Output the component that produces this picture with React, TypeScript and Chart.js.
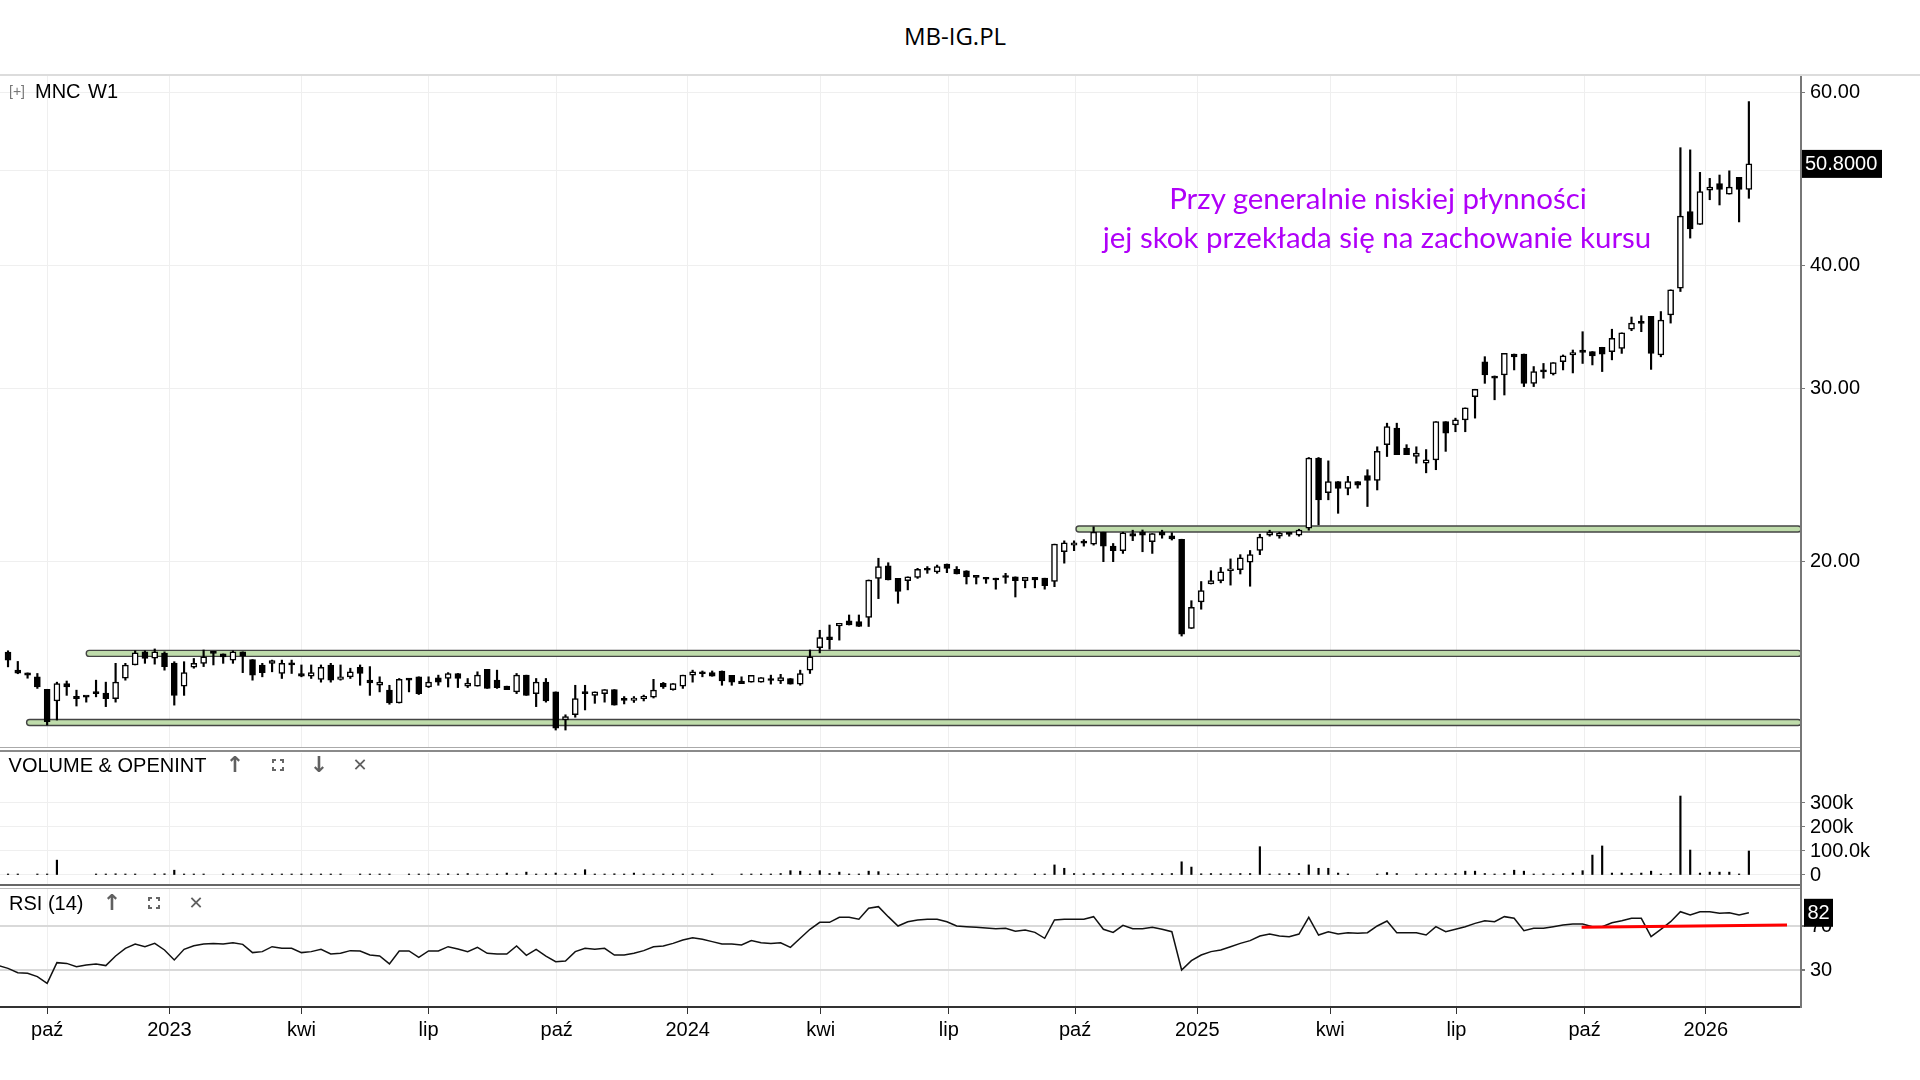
import React, { useEffect, useMemo, useRef } from "react";
import { Chart, registerables } from "chart.js";

Chart.register(...registerables);

const FONT = '"Liberation Sans", Arial, sans-serif';

// ---------- DATA (weekly candles, index 0 = early Sep 2022) ----------
const opens = [
  16.15, 15.48, 15.38, 15.24, 14.8, 14.4, 15.0, 14.56, 14.54, 14.66,
  14.67, 14.48, 15.19, 15.67, 16.16, 15.92, 16.11, 15.74, 14.91, 15.59,
  15.73, 16.16, 16.08, 15.85, 16.16, 15.87, 15.67, 15.73, 15.36, 15.75,
  15.36, 15.26, 15.15, 15.67, 15.15, 15.24, 15.58, 15.12, 14.94, 14.77,
  14.33, 15.18, 15.24, 14.88, 15.2, 15.18, 15.36, 14.91, 14.91, 15.51,
  15.12, 14.91, 14.71, 15.3, 14.65, 15.05, 14.71, 13.77, 13.94, 14.71,
  14.59, 14.65, 14.79, 14.45, 14.42, 14.48, 14.53, 15.01, 14.79, 14.91,
  15.3, 15.37, 15.39, 15.45, 15.29, 15.09, 15.05, 15.05, 15.13, 15.09,
  15.18, 14.98, 15.48, 16.32, 16.74, 17.17, 17.38, 17.35, 17.52, 19.2,
  19.77, 19.2, 19.1, 19.25, 19.59, 19.5, 19.86, 19.61, 19.55, 19.26,
  19.25, 19.21, 19.26, 19.27, 19.1, 19.25, 19.21, 19.06, 20.44, 20.76,
  20.88, 20.81, 21.4, 20.71, 20.49, 21.33, 21.4, 20.93, 21.4, 21.22,
  21.05, 17.07, 18.17, 18.95, 19.1, 19.55, 19.6, 19.95, 20.5, 21.25,
  21.2, 21.31, 21.25, 21.6, 25.47, 23.48, 24.1, 23.71, 24.1, 24.44,
  24.16, 26.28, 27.32, 26.07, 25.56, 25.16, 25.36, 27.74, 27.53, 27.86,
  29.42, 31.93, 30.88, 30.95, 32.51, 32.51, 30.35, 31.22, 31.02, 31.93,
  32.44, 32.82, 32.7, 33.03, 32.7, 32.95, 34.46, 34.98, 35.51, 32.44,
  35.63, 37.95, 45.41, 44.07, 47.77, 48.5, 47.32, 49.21, 47.85,
];
const highs = [
  16.2, 15.8, 15.38, 15.36, 14.8, 15.05, 15.09, 14.77, 14.56, 15.12,
  15.05, 15.73, 15.73, 16.2, 16.2, 16.27, 16.16, 15.79, 15.79, 15.91,
  16.23, 16.16, 16.08, 16.2, 16.16, 15.87, 15.73, 15.85, 15.85, 15.85,
  15.67, 15.67, 15.67, 15.73, 15.67, 15.55, 15.67, 15.61, 15.24, 14.94,
  15.18, 15.18, 15.24, 15.24, 15.3, 15.39, 15.36, 15.18, 15.42, 15.51,
  15.48, 14.91, 15.36, 15.3, 15.18, 15.18, 14.71, 13.94, 14.94, 14.94,
  14.71, 14.79, 14.79, 14.55, 14.55, 14.6, 15.15, 15.04, 15.0, 15.3,
  15.48, 15.45, 15.45, 15.45, 15.29, 15.24, 15.29, 15.21, 15.3, 15.33,
  15.18, 15.48, 16.23, 17.0, 17.21, 17.28, 17.62, 17.62, 19.13, 20.13,
  19.92, 19.2, 19.27, 19.66, 19.74, 19.81, 19.86, 19.74, 19.55, 19.26,
  19.25, 19.21, 19.43, 19.27, 19.25, 19.25, 19.21, 20.81, 20.97, 20.97,
  21.03, 21.67, 21.4, 20.84, 21.4, 21.5, 21.51, 21.33, 21.5, 21.37,
  21.05, 18.22, 19.06, 19.55, 19.7, 20.1, 20.3, 20.5, 21.3, 21.5,
  21.4, 21.4, 21.55, 25.5, 25.5, 25.3, 24.1, 24.4, 24.1, 24.78,
  26.15, 27.64, 27.64, 26.28, 26.15, 25.98, 27.74, 27.74, 27.97, 28.65,
  29.93, 32.31, 30.88, 32.56, 32.51, 32.51, 31.57, 31.8, 31.86, 32.44,
  32.82, 34.26, 32.7, 33.03, 34.46, 34.17, 35.46, 35.57, 35.51, 35.92,
  37.8, 52.77, 52.5, 49.8, 49.1, 49.49, 49.98, 49.21, 58.8,
];
const lows = [
  15.6, 15.35, 15.19, 14.83, 13.61, 13.77, 14.59, 14.23, 14.36, 14.54,
  14.21, 14.36, 15.12, 15.67, 15.73, 15.7, 15.48, 14.26, 14.59, 15.55,
  15.61, 15.67, 15.73, 15.73, 15.39, 15.12, 15.24, 15.42, 15.18, 15.36,
  15.24, 15.18, 15.05, 15.05, 15.12, 15.18, 14.94, 14.59, 14.71, 14.29,
  14.33, 14.71, 14.62, 14.86, 14.94, 14.88, 14.86, 14.86, 14.91, 14.83,
  14.83, 14.79, 14.65, 14.59, 14.21, 14.36, 13.45, 13.45, 13.86, 14.1,
  14.32, 14.36, 14.26, 14.3, 14.35, 14.4, 14.5, 14.83, 14.77, 14.83,
  15.05, 15.24, 15.26, 14.94, 14.94, 15.0, 15.05, 15.05, 14.98, 15.0,
  14.98, 14.94, 15.36, 16.12, 16.26, 16.61, 17.21, 17.15, 17.15, 18.31,
  19.13, 18.11, 18.69, 19.2, 19.43, 19.43, 19.46, 19.4, 18.95, 18.95,
  18.98, 18.72, 18.98, 18.38, 18.78, 18.78, 18.72, 18.83, 19.9, 20.49,
  20.71, 20.76, 19.97, 19.97, 20.36, 20.98, 20.44, 20.36, 21.1, 21.01,
  16.77, 17.07, 17.86, 18.95, 19.0, 18.9, 19.4, 18.85, 20.3, 21.2,
  21.1, 21.2, 21.2, 21.5, 21.77, 23.09, 22.37, 23.36, 23.73, 22.73,
  23.63, 25.56, 25.67, 25.67, 25.16, 24.6, 24.78, 25.87, 27.09, 27.09,
  27.97, 30.35, 29.2, 29.53, 31.32, 30.12, 30.12, 30.72, 30.95, 31.32,
  31.1, 31.8, 31.69, 31.2, 32.07, 32.56, 34.34, 34.26, 31.36, 32.3,
  34.96, 37.65, 42.68, 44.07, 46.7, 46.13, 47.32, 44.33, 46.86,
];
const closes = [
  15.85, 15.37, 15.3, 14.88, 13.72, 15.0, 14.88, 14.48, 14.53, 14.65,
  14.48, 15.05, 15.67, 16.12, 15.91, 16.16, 15.61, 14.59, 15.39, 15.73,
  15.97, 16.1, 15.97, 16.16, 16.0, 15.3, 15.39, 15.83, 15.73, 15.67,
  15.26, 15.39, 15.58, 15.12, 15.24, 15.42, 15.36, 15.02, 15.05, 14.33,
  15.15, 15.12, 14.65, 15.05, 15.05, 15.36, 15.18, 15.02, 15.3, 14.83,
  14.86, 14.79, 15.3, 14.59, 15.05, 14.4, 13.51, 13.88, 14.48, 14.65,
  14.71, 14.79, 14.26, 14.42, 14.5, 14.56, 14.77, 14.88, 15.0, 15.3,
  15.42, 15.35, 15.26, 15.09, 15.05, 15.0, 15.29, 15.21, 15.11, 15.21,
  14.98, 15.36, 15.97, 16.71, 16.63, 17.28, 17.21, 17.15, 19.13, 19.74,
  19.13, 18.62, 19.27, 19.61, 19.57, 19.74, 19.66, 19.4, 19.27, 19.25,
  19.16, 19.13, 19.24, 19.1, 19.25, 19.13, 18.87, 20.81, 20.87, 20.87,
  20.86, 21.4, 20.71, 20.49, 21.37, 21.2, 21.25, 21.33, 21.25, 21.06,
  16.84, 17.94, 18.66, 19.1, 19.5, 19.6, 20.15, 20.3, 21.15, 21.4,
  21.35, 21.29, 21.5, 25.47, 23.09, 24.1, 23.71, 24.1, 23.9, 24.16,
  25.87, 27.42, 25.67, 25.67, 25.77, 25.36, 27.74, 27.0, 27.86, 28.65,
  29.93, 30.95, 30.72, 32.56, 32.3, 30.35, 31.2, 31.18, 31.86, 32.37,
  32.63, 32.63, 32.37, 32.51, 33.74, 34.17, 34.96, 34.94, 32.56, 35.2,
  37.8, 44.95, 43.62, 47.6, 48.1, 47.85, 48.1, 47.85, 50.8,
];
// volume in thousands
const volumesK = [
  3, 3, 0, 3, 4, 62, 0, 0, 0, 3,
  3, 5, 3, 3, 0, 3, 5, 20, 4, 3,
  3, 0, 2, 2, 2, 2, 2, 2, 2, 2,
  2, 2, 2, 2, 2, 0, 3, 3, 2, 3,
  0, 3, 4, 3, 3, 5, 3, 6, 4, 3,
  3, 8, 3, 12, 3, 5, 8, 3, 6, 22,
  4, 3, 5, 3, 8, 3, 3, 3, 3, 4,
  3, 3, 3, 0, 0, 2, 3, 3, 3, 6,
  18, 16, 4, 18, 6, 12, 4, 3, 16, 14,
  4, 3, 3, 3, 3, 3, 3, 2, 3, 3,
  3, 3, 2, 3, 0, 3, 3, 42, 28, 6,
  5, 6, 6, 5, 6, 5, 5, 6, 5, 6,
  55, 33, 5, 6, 5, 5, 6, 6, 118, 4,
  5, 6, 6, 42, 28, 28, 8, 4, 0, 0,
  4, 10, 6, 0, 4, 5, 5, 4, 6, 16,
  16, 6, 4, 6, 20, 16, 4, 5, 4, 5,
  8, 18, 83, 121, 8, 8, 6, 8, 16, 4,
  6, 329, 104, 8, 12, 12, 12, 3, 100,
];
// RSI(14), first value belongs to week -1
const RSI_START = -1;
const rsiValues = [
  34,
  31.5, 27.6, 27, 24, 17.9, 36.7, 36, 33, 34.5, 35.5,
  34, 42.7, 49.7, 53.6, 51.2, 54.2, 48.2, 39.1, 48.8, 52.1,
  53.6, 54.2, 53.6, 54.8, 53.3, 45.8, 46.7, 51.2, 49.7, 49.7,
  45.8, 46.7, 48.8, 44.5, 45.2, 47.6, 47.3, 43.6, 42.7, 35.5,
  47.3, 47.3, 41.5, 47.3, 47.3, 51.2, 49.1, 46.7, 50.6, 45.2,
  44.5, 44.5, 51.8, 43.3, 48.8, 42.7, 37.6, 38.2, 46.7, 49.7,
  48.8, 49.7, 43.6, 43.6, 45.2, 47.6, 51.2, 51.8, 54.2, 57.3,
  59.4, 57.9, 55.8, 53.6, 53.6, 52.7, 56.7, 54.8, 54.2, 54.8,
  50.6, 58.8, 67, 73.3, 73.3, 77.9, 77.9, 76.1, 86.1, 87.6,
  78.5, 70, 73.9, 75.5, 76.1, 76.1, 73.9, 70, 69.4, 68.8,
  68.2, 67.6, 67.9, 65.2, 66.4, 64.2, 58.8, 75.5, 76.1, 76.1,
  76.1, 78.5, 67, 64.2, 70.6, 67.6, 67.6, 68.8, 67, 64.8,
  30, 38.5, 43.6, 46.7, 48.2, 51.2, 54.2, 56.7, 60.9, 62.7,
  60.9, 60.3, 62.7, 77.9, 61.8, 64.8, 62.7, 63.9, 63.3, 63.9,
  70, 74.5, 63.9, 63.9, 63.9, 61.8, 69.4, 64.8, 67, 69.4,
  72.4, 74.8, 73.9, 78.5, 77, 65.8, 67.9, 67.9, 69.4, 70.9,
  71.8, 71.8, 69.4, 69.4, 73, 74.8, 77, 77, 60.3, 67,
  73.9, 83, 80, 83, 83, 81.5, 82.1, 80, 82,
];
const tickPositions = [4, 16.5, 30, 43, 56.1, 69.5, 83.1, 96.2, 109.1, 121.6, 135.2, 148.1, 161.2, 173.6];
const tickLabels = ["paź", "2023", "kwi", "lip", "paź", "2024", "kwi", "lip", "paź", "2025", "kwi", "lip", "paź", "2026"];
const priceTicks = [20, 30, 40, 50, 60];
const volumeTicks = [0, 100, 200, 300];
const volumeTickLabels = ["0", "100.0k", "200k", "300k"];
const rsiTicks = [30, 70];
const bandLevels = [13.69, 16.1, 21.56];
const bandStarts = [1.9, 8.0, 109.2];
const trendX = [160.9, 181.9];
const trendY = [68.8, 70.9];
const annotationLines = ["Przy generalnie niskiej płynności", "jej skok przekłada się na zachowanie kursu"];

// ---------- GEOMETRY ----------
const W = 1920;
const X_MIN = -0.82;
const X_MAX = 183.33;
const AXIS_W = 119;
const MAIN_TOP = 76, MAIN_H = 671;
const PRICE_MIN = 12.925, PRICE_MAX = 62.44;
const VOL_TOP = 753, VOL_H = 131;
const VOL_MIN = -37.5, VOL_MAX = 508.3;
const RSI_TOP = 889, RSI_H = 160, RSI_AXIS_H = 42;
const RSI_MIN = -3.64, RSI_MAX = 103.64;

const noPad = (s: any) => {
  s.paddingTop = 0; s.paddingBottom = 0; s.paddingLeft = 0; s.paddingRight = 0;
};

const xScaleHidden = (): any => ({
  type: "linear",
  min: X_MIN,
  max: X_MAX,
  offset: false,
  afterBuildTicks: (s: any) => { s.ticks = tickPositions.map((v) => ({ value: v })); },
  ticks: { display: false },
  grid: { color: "#efefef", drawTicks: false, offset: false },
  border: { display: false },
  afterFit: (s: any) => { s.height = 0; noPad(s); },
});

const bandPlugin = {
  id: "bands",
  beforeDatasetsDraw(chart: any) {
    const { ctx, chartArea, scales } = chart;
    ctx.save();
    bandLevels.forEach((lvl, k) => {
      const y = scales.y.getPixelForValue(lvl);
      const x0 = scales.x.getPixelForValue(bandStarts[k]);
      const x1 = chartArea.right;
      ctx.beginPath();
      ctx.roundRect(x0, y - 3, x1 - x0, 6, 3);
      ctx.fillStyle = "#bfdcab";
      ctx.fill();
      ctx.lineWidth = 1.4;
      ctx.strokeStyle = "#444";
      ctx.stroke();
    });
    ctx.restore();
  },
};

const lastPricePlugin = {
  id: "lastPrice",
  afterDraw(chart: any) {
    const { ctx, chartArea, scales } = chart;
    const v = closes[closes.length - 1];
    const y = scales.y.getPixelForValue(v);
    ctx.save();
    ctx.fillStyle = "#000";
    ctx.fillRect(chartArea.right + 1, y - 14, 80, 28);
    ctx.fillStyle = "#fff";
    ctx.font = `20px ${FONT}`;
    ctx.textBaseline = "middle";
    ctx.textAlign = "left";
    ctx.fillText(v.toFixed(4), chartArea.right + 4, y + 1);
    ctx.restore();
  },
};

const lastRsiPlugin = {
  id: "lastRsi",
  afterDraw(chart: any) {
    const { ctx, chartArea, scales } = chart;
    const v = rsiValues[rsiValues.length - 1];
    const y = scales.y.getPixelForValue(v);
    ctx.save();
    ctx.fillStyle = "#000";
    ctx.fillRect(chartArea.right + 3, y - 14, 29, 28);
    ctx.fillStyle = "#fff";
    ctx.font = `20px ${FONT}`;
    ctx.textBaseline = "middle";
    ctx.textAlign = "center";
    ctx.fillText(String(Math.round(v)), chartArea.right + 17.5, y + 1);
    ctx.restore();
  },
};

function fitFontSize(text: string, family: string, target: number) {
  const c = document.createElement("canvas").getContext("2d");
  if (!c) return 30;
  c.font = `100px ${family}`;
  return (100 * target) / c.measureText(text).width;
}

const T = ({ x, y, size, children, color = "#000", family = FONT, center = false }: any) => {
  const lh = Math.round(size * 1.2);
  return (
    <div
      style={{
        position: "absolute",
        left: x,
        top: y - lh / 2,
        lineHeight: lh + "px",
        fontSize: size,
        fontFamily: family,
        color,
        whiteSpace: "nowrap",
        transform: center ? "translateX(-50%)" : undefined,
      }}
    >
      {children}
    </div>
  );
};

const Corners = ({ x, y }: any) => {
  const s = 12, l = 4, w = 2, c = "#666";
  const seg = (st: any, k: number) => <div key={k} style={{ position: "absolute", background: c, ...st }} />;
  return (
    <div style={{ position: "absolute", left: x - s / 2, top: y - s / 2, width: s, height: s }}>
      {seg({ left: 0, top: 0, width: l, height: w }, 1)}
      {seg({ left: 0, top: 0, width: w, height: l }, 2)}
      {seg({ right: 0, top: 0, width: l, height: w }, 3)}
      {seg({ right: 0, top: 0, width: w, height: l }, 4)}
      {seg({ left: 0, bottom: 0, width: l, height: w }, 5)}
      {seg({ left: 0, bottom: 0, width: w, height: l }, 6)}
      {seg({ right: 0, bottom: 0, width: l, height: w }, 7)}
      {seg({ right: 0, bottom: 0, width: w, height: l }, 8)}
    </div>
  );
};

const Icon = ({ x, y, ch, size = 22, weight = 700 }: any) => (
  <div
    style={{
      position: "absolute", left: x - 12, top: y - 14, width: 24, height: 28,
      lineHeight: "28px", textAlign: "center", fontSize: size, fontWeight: weight,
      fontFamily: '"DejaVu Sans", sans-serif', color: "#606060",
    }}
  >
    {ch}
  </div>
);

export default function App() {
  const mainRef = useRef<HTMLCanvasElement>(null);
  const volRef = useRef<HTMLCanvasElement>(null);
  const rsiRef = useRef<HTMLCanvasElement>(null);

  const annSize = useMemo(() => fitFontSize(annotationLines[1], "Lato", 549), []);

  useEffect(() => {
    document.body.style.margin = "0";
    Chart.defaults.font.family = FONT;
    Chart.defaults.color = "#000";
    const idx = closes.map((_, i) => i);

    const main = new Chart(mainRef.current as HTMLCanvasElement, {
      type: "bar",
      data: {
        datasets: [
          {
            data: idx.map((i) => ({ x: i, y: [opens[i], closes[i]] })) as any,
            backgroundColor: idx.map((i) => (closes[i] >= opens[i] ? "#ffffff" : "#000000")),
            borderColor: "#000",
            borderWidth: 1.5,
            borderSkipped: false,
            barThickness: 6,
            grouped: false,
            minBarLength: 2,
            order: 0,
          } as any,
          {
            data: idx.map((i) => ({ x: i, y: [lows[i], highs[i]] })) as any,
            backgroundColor: "#000",
            borderWidth: 0,
            barThickness: 1.5,
            grouped: false,
            order: 1,
          } as any,
        ],
      },
      options: {
        responsive: false,
        animation: false,
        devicePixelRatio: 1,
        events: [],
        layout: { padding: 0 },
        plugins: { legend: { display: false }, tooltip: { enabled: false } },
        scales: {
          x: xScaleHidden(),
          y: {
            type: "logarithmic",
            position: "right",
            min: PRICE_MIN,
            max: PRICE_MAX,
            afterBuildTicks: (s: any) => { s.ticks = priceTicks.map((v) => ({ value: v })); },
            ticks: {
              callback: (v: any) => Number(v).toFixed(2),
              font: { size: 20, family: FONT },
              color: "#000",
              padding: 5,
              autoSkip: false,
            },
            grid: { color: "#efefef", tickLength: 4, tickColor: "#777" },
            border: { color: "#777", width: 2 },
            afterFit: (s: any) => { s.width = AXIS_W; noPad(s); },
          } as any,
        },
      },
      plugins: [bandPlugin, lastPricePlugin],
    });

    const vol = new Chart(volRef.current as HTMLCanvasElement, {
      type: "bar",
      data: {
        datasets: [
          {
            data: idx.map((i) => ({ x: i, y: volumesK[i] ? volumesK[i] : null })) as any,
            backgroundColor: "#000",
            borderWidth: 0,
            barThickness: 1.5,
            grouped: false,
            minBarLength: 1,
          } as any,
        ],
      },
      options: {
        responsive: false,
        animation: false,
        devicePixelRatio: 1,
        events: [],
        layout: { padding: 0 },
        plugins: { legend: { display: false }, tooltip: { enabled: false } },
        scales: {
          x: xScaleHidden(),
          y: {
            type: "linear",
            position: "right",
            min: VOL_MIN,
            max: VOL_MAX,
            afterBuildTicks: (s: any) => { s.ticks = volumeTicks.map((v) => ({ value: v })); },
            ticks: {
              callback: (_v: any, i: number) => volumeTickLabels[i],
              font: { size: 20, family: FONT },
              color: "#000",
              padding: 5,
              autoSkip: false,
            },
            grid: { color: "#efefef", tickLength: 4, tickColor: "#777" },
            border: { color: "#777", width: 2 },
            afterFit: (s: any) => { s.width = AXIS_W; noPad(s); },
          } as any,
        },
      },
    });

    const rsi = new Chart(rsiRef.current as HTMLCanvasElement, {
      type: "line",
      data: {
        datasets: [
          {
            data: rsiValues.map((v, k) => ({ x: k + RSI_START, y: v })),
            borderColor: "#111",
            borderWidth: 1.5,
            pointRadius: 0,
            tension: 0,
            order: 1,
          },
          {
            data: trendX.map((x, k) => ({ x, y: trendY[k] })),
            borderColor: "#ff0000",
            borderWidth: 3,
            pointRadius: 0,
            tension: 0,
            order: 0,
          },
        ],
      },
      options: {
        responsive: false,
        animation: false,
        devicePixelRatio: 1,
        events: [],
        layout: { padding: 0 },
        plugins: { legend: { display: false }, tooltip: { enabled: false } },
        scales: {
          x: {
            type: "linear",
            min: X_MIN,
            max: X_MAX,
            offset: false,
            afterBuildTicks: (s: any) => { s.ticks = tickPositions.map((v) => ({ value: v })); },
            ticks: {
              callback: (_v: any, i: number) => tickLabels[i],
              font: { size: 20, family: FONT },
              color: "#000",
              padding: 4,
              autoSkip: false,
              maxRotation: 0,
              minRotation: 0,
            },
            grid: { color: "#efefef", tickLength: 7, tickColor: "#333" },
            border: { color: "#333", width: 2 },
            afterFit: (s: any) => { s.height = RSI_AXIS_H; noPad(s); },
          } as any,
          y: {
            type: "linear",
            position: "right",
            min: RSI_MIN,
            max: RSI_MAX,
            afterBuildTicks: (s: any) => { s.ticks = rsiTicks.map((v) => ({ value: v })); },
            ticks: {
              callback: (v: any) => String(v),
              font: { size: 20, family: FONT },
              color: "#000",
              padding: 5,
              autoSkip: false,
            },
            grid: { color: "#d9d9d9", lineWidth: 2, tickLength: 4, tickColor: "#777" },
            border: { color: "#777", width: 2 },
            afterFit: (s: any) => { s.width = AXIS_W; noPad(s); },
          } as any,
        },
      },
      plugins: [lastRsiPlugin],
    });

    return () => {
      main.destroy();
      vol.destroy();
      rsi.destroy();
    };
  }, []);

  const annFamily = "Lato, 'Open Sans', sans-serif";

  return (
    <div
      style={{
        position: "absolute", left: 0, top: 0, width: W, height: 1080,
        background: "#fff", overflow: "hidden", fontFamily: FONT,
      }}
    >
      <canvas ref={mainRef} width={W} height={MAIN_H} style={{ position: "absolute", left: 0, top: MAIN_TOP }} />
      <canvas ref={volRef} width={W} height={VOL_H} style={{ position: "absolute", left: 0, top: VOL_TOP }} />
      <canvas ref={rsiRef} width={W} height={RSI_H} style={{ position: "absolute", left: 0, top: RSI_TOP }} />

      {/* separators */}
      <div style={{ position: "absolute", left: 0, top: 74, width: W, height: 2, background: "#dcdcdc" }} />
      <div style={{ position: "absolute", left: 0, top: 747, width: 1801, height: 1, background: "#aaa" }} />
      <div style={{ position: "absolute", left: 0, top: 750, width: 1801, height: 2, background: "#8a8a8a" }} />
      <div style={{ position: "absolute", left: 0, top: 884, width: 1801, height: 2, background: "#666" }} />
      <div style={{ position: "absolute", left: 0, top: 888, width: 1801, height: 1, background: "#bbb" }} />
      <div style={{ position: "absolute", left: 1800, top: 76, width: 2, height: 931, background: "#777" }} />

      {/* title */}
      <T x={955} y={35} size={24} family="'Open Sans', sans-serif" center>MB-IG.PL</T>

      {/* main panel header */}
      <T x={9} y={91} size={14} color="#777">[+]</T>
      <T x={35} y={91} size={20}>MNC</T>
      <T x={88} y={91} size={20}>W1</T>

      {/* annotation */}
      <T x={1378} y={197.5} size={annSize} family={annFamily} color="#b000f8" center>{annotationLines[0]}</T>
      <T x={1377} y={236} size={annSize} family={annFamily} color="#b000f8" center>{annotationLines[1]}</T>

      {/* volume header */}
      <T x={8.6} y={765} size={20}>VOLUME &amp; OPENINT</T>
      <Icon x={235} y={765} ch="↑" />
      <Corners x={278} y={765} />
      <Icon x={319} y={765} ch="↓" />
      <Icon x={360} y={765} ch="✕" size={18} />

      {/* rsi header */}
      <T x={9} y={902.7} size={20}>RSI (14)</T>
      <Icon x={112} y={902.7} ch="↑" />
      <Corners x={154} y={902.7} />
      <Icon x={196} y={902.7} ch="✕" size={18} />
    </div>
  );
}
